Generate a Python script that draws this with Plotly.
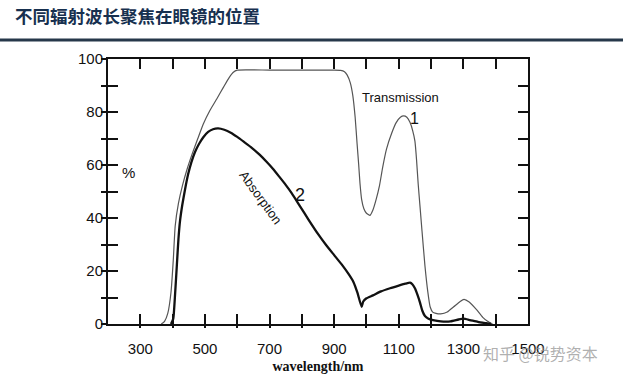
import plotly.graph_objects as go

# ---------------- data ----------------
trans_wl = [365, 375, 385, 395, 402, 408, 418, 431, 445, 460, 478, 495, 515, 537, 558, 575, 588, 600,
            700, 800, 900, 920, 932, 940, 950, 958, 965, 971, 976, 980, 985, 992, 1000, 1011, 1020,
            1030, 1040, 1050, 1062, 1078, 1092, 1105, 1115, 1125, 1135, 1143, 1150, 1155, 1160, 1166,
            1172, 1181, 1190, 1197, 1205, 1215, 1230, 1250, 1270, 1290, 1302, 1318, 1340, 1360, 1375, 1390]
trans_val = [0, 1, 4, 12, 24, 37, 45.5, 52.5, 58.5, 64, 70, 75.5, 80.5, 85, 89.5, 93, 95, 95.8,
             95.8, 95.8, 95.8, 95.7, 95.2, 94, 91, 86, 78, 68, 60, 53, 47, 43.5, 41.8, 41, 43,
             47, 52, 59, 66, 72, 76, 78, 78.5, 78, 76, 73, 69, 62, 53, 44,
             35, 22, 12, 6.5, 4.5, 4, 3.8, 4.5, 6.5, 8.5, 9.3, 8.3, 5.5, 2.5, 1, 0]

abs_wl = [395, 402, 407, 413, 418, 423, 430, 438, 448, 458, 469, 482, 495, 510, 525, 541, 560, 580,
          600, 620, 645, 670, 690, 711, 730, 750, 769, 794, 820, 851, 875, 900, 925, 945, 960,
          972, 985, 990, 1000, 1020, 1045, 1073, 1100, 1120, 1135, 1142, 1150, 1158, 1166, 1173,
          1181, 1192, 1206, 1230, 1260, 1285, 1300, 1320, 1345, 1370, 1385]
abs_val = [0, 2, 10, 22, 32, 39, 45, 50.5, 56.5, 61, 64.8, 68, 70.5, 72.5, 73.5, 73.8, 73.3, 72.2,
           70.6, 68.8, 66.5, 63.8, 61.3, 58.5, 55.6, 52.5, 49.3, 44.5, 39.5, 33.8, 29.8, 26, 22.2, 18.8, 15.8,
           11.8, 6.5, 8.5, 9.7, 10.8, 12.3, 13.5, 14.5, 15.2, 15.6, 15, 13.5, 11, 8, 5,
           3, 2, 1.5, 1, 1, 1.7, 2, 1.5, 0.8, 0.3, 0]

x_tick_vals = [300, 400, 500, 600, 700, 800, 900, 1000, 1100, 1200, 1300, 1400, 1500]
x_tick_text = ["300", "", "500", "", "700", "", "900", "", "1100", "", "1300", "", "1500"]
y_tick_vals = [0, 10, 20, 30, 40, 50, 60, 70, 80, 90, 100]
y_tick_text = ["0", "", "20", "", "40", "", "60", "", "80", "", "100"]

title_text = "不同辐射波长聚焦在眼镜的位置"
x_title = "wavelength/nm"
watermark = "知乎 @锐势资本"

# ---------------- figure ----------------
fig = go.Figure()
fig.add_trace(go.Scatter(x=trans_wl, y=trans_val, mode="lines",
                         line=dict(color="#555555", width=1.2, shape="spline", smoothing=0.5),
                         hoverinfo="skip", name="Transmission"))
fig.add_trace(go.Scatter(x=abs_wl, y=abs_val, mode="lines",
                         line=dict(color="#111111", width=2.3, shape="spline", smoothing=0.5),
                         hoverinfo="skip", name="Absorption"))
# invisible helper trace for the overlay axes (outer tick stubs)
fig.add_trace(go.Scatter(x=[200], y=[0], mode="markers", marker=dict(opacity=0),
                         xaxis="x2", yaxis="y2", hoverinfo="skip", showlegend=False))

tick_font = dict(family="Liberation Sans, Arial", size=15, color="#111111")

fig.update_layout(
    width=623, height=380,
    margin=dict(l=108, r=95, t=59, b=56),
    paper_bgcolor="white", plot_bgcolor="white",
    showlegend=False,
    xaxis=dict(range=[200, 1500], tickmode="array", tickvals=x_tick_vals, ticktext=x_tick_text,
               ticks="inside", ticklen=10, tickwidth=2, tickcolor="#111111", automargin=False,
               showline=True, linewidth=2, linecolor="#111111", mirror="ticks",
               showgrid=False, zeroline=False, tickfont=tick_font, ticklabelstandoff=10,
               title=dict(text="<b>" + x_title + "</b>", standoff=5,
                          font=dict(family="Liberation Serif, Times New Roman", size=14, color="#111111"))),
    yaxis=dict(range=[0, 100], tickmode="array", tickvals=y_tick_vals, ticktext=y_tick_text,
               ticks="inside", ticklen=10, tickwidth=2, tickcolor="#111111", automargin=False,
               showline=True, linewidth=2, linecolor="#111111", mirror="ticks",
               showgrid=False, zeroline=False, tickfont=tick_font, ticklabelstandoff=0),
    xaxis2=dict(range=[200, 1500], overlaying="x", side="bottom", anchor="y2", automargin=False,
                tickmode="array", tickvals=x_tick_vals[:-1], ticks="outside", ticklen=3, tickwidth=2,
                tickcolor="#111111", showticklabels=False, showline=False, showgrid=False, zeroline=False),
    yaxis2=dict(range=[0, 100], overlaying="y", side="left", anchor="x2", automargin=False,
                tickmode="array", tickvals=y_tick_vals, ticks="outside", ticklen=6, tickwidth=2,
                tickcolor="#111111", showticklabels=False, showline=False, showgrid=False, zeroline=False),
)

# header title and rule
fig.add_annotation(text="<b>" + title_text + "</b>", xref="paper", yref="paper",
                   x=-0.226, y=1.165, xanchor="left", yanchor="middle", showarrow=False,
                   font=dict(family="Noto Sans CJK SC", size=17.5, color="#17304f"))
fig.add_shape(type="line", xref="paper", yref="paper", x0=-0.26, x1=1.23, y0=1.0717, y1=1.0717,
              line=dict(color="#26384a", width=3))

# in-plot labels
label_font = dict(family="Liberation Sans, Arial", color="#111111")
fig.add_annotation(text="Transmission", x=1104, y=85.3, showarrow=False,
                   font=dict(size=13, **label_font))
fig.add_annotation(text="1", x=1150, y=77.4, showarrow=False, font=dict(size=16, **label_font))
fig.add_annotation(text="2", x=794, y=48.7, showarrow=False, font=dict(size=18, **label_font))
fig.add_annotation(text="Absorption", x=673, y=47.9, textangle=54, showarrow=False,
                   font=dict(size=13, **label_font))
fig.add_annotation(text="%", x=262, y=57, showarrow=False, font=dict(size=15, **label_font))

# watermark
fig.add_annotation(text=watermark, xref="paper", yref="paper", x=1.03, y=-0.11,
                   xanchor="center", yanchor="middle", showarrow=False,
                   font=dict(family="Noto Sans CJK SC", size=16, color="rgba(150,150,150,0.75)"))

fig.write_html("out.html", config={"displayModeBar": False},
               post_script="document.body.style.margin='0';")
